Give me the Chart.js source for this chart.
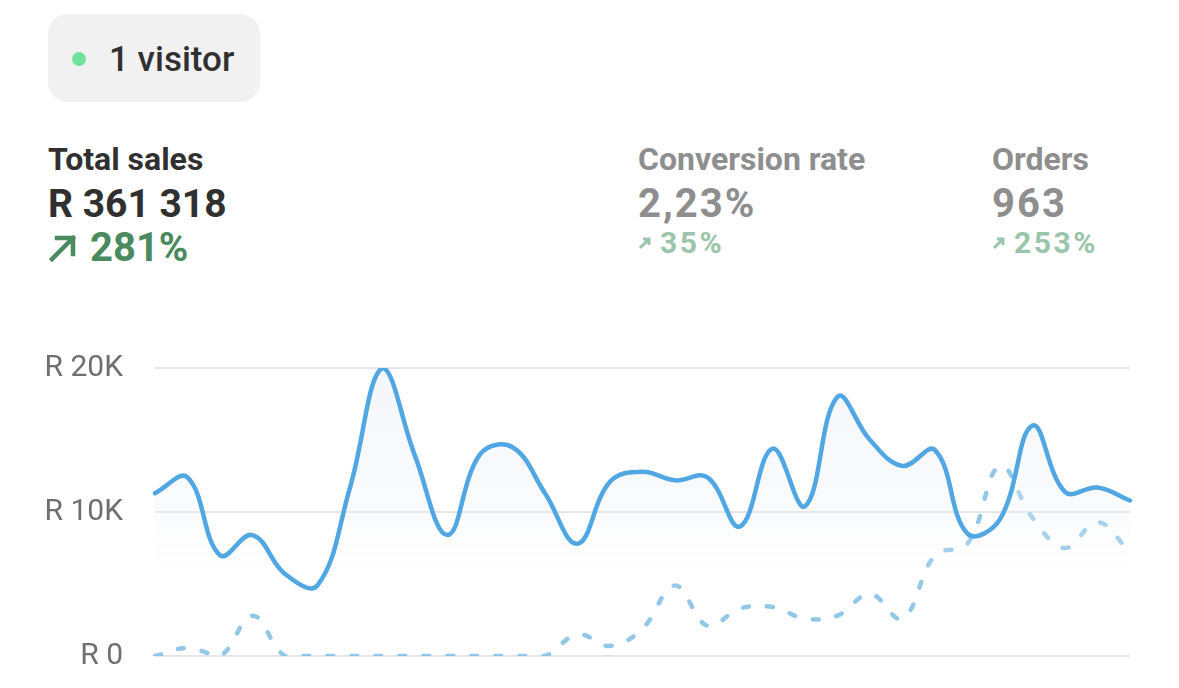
<!DOCTYPE html>
<html>
<head>
<meta charset="utf-8">
<script src="https://cdn.jsdelivr.net/npm/chart.js@4.4.1/dist/chart.umd.min.js"></script>
<style>
  html, body { margin:0; padding:0; background:#fff; width:1179px; height:688px; overflow:hidden; font-family: Roboto, "Noto Sans", sans-serif; position:relative; }
  .pill { position:absolute; left:48px; top:14px; width:212px; height:88px; border-radius:20px; background:#f1f1f1; }
  .dot { position:absolute; left:72px; top:52px; width:14px; height:14px; border-radius:50%; background:#6fe39c; }
  .visitor { position:absolute; left:109px; top:39px; font-size:35px; font-weight:500; color:#303030; line-height:42px; }
  .metric { position:absolute; top:140px; }
  .metric .t { font-size:32px; font-weight:700; line-height:38px; }
  .metric .v { font-size:40px; font-weight:700; line-height:46px; margin-top:3px; }
  .metric .c { font-weight:700; display:flex; align-items:center; }
  .main .t, .main .v { color:#303030; }
  .main .v { font-size:39px; letter-spacing:0px; }
  .main .c { color:#4a8a5f; font-size:40px; line-height:40px; margin-top:1px; }
  .sub .t, .sub .v { color:#8e8e8e; }
  .sub .v { letter-spacing:2px; }
  .sub .c { color:#9bc5ab; font-size:30px; line-height:30px; margin-top:1px; letter-spacing:2.5px; }
  #c { position:absolute; left:0; top:318px; }
</style>
</head>
<body>
<div class="pill"></div>
<div class="dot"></div>
<div class="visitor">1 visitor</div>

<div class="metric main" style="left:48px;">
  <div class="t">Total sales</div>
  <div class="v">R 361 318</div>
  <div class="c"><svg width="30" height="30" viewBox="0 0 30 30" style="margin-right:12px"><path d="M4 26 L25 5 M9 5 L25 5 L25 21" stroke="#4a8a5f" stroke-width="4.5" fill="none" stroke-linecap="square"/></svg>281%</div>
</div>
<div class="metric sub" style="left:638px;">
  <div class="t">Conversion rate</div>
  <div class="v">2,23%</div>
  <div class="c"><svg width="14" height="14" viewBox="0 0 14 14" style="margin-right:8px"><path d="M2 12 L11 3 M5 3 L11 3 L11 9" stroke="#9bc5ab" stroke-width="3" fill="none"/></svg>35%</div>
</div>
<div class="metric sub" style="left:992px;">
  <div class="t">Orders</div>
  <div class="v">963</div>
  <div class="c"><svg width="14" height="14" viewBox="0 0 14 14" style="margin-right:8px"><path d="M2 12 L11 3 M5 3 L11 3 L11 9" stroke="#9bc5ab" stroke-width="3" fill="none"/></svg>253%</div>
</div>

<canvas id="c" width="1179" height="388"></canvas>

<script>
const days = ['1','2','3','4','5','6','7','8','9','10','11','12','13','14','15','16','17','18','19','20','21','22','23','24','25','26','27','28','29','30','31'];
const currentSales = [11300,12400,7000,8400,5700,4900,11700,20000,13900,8400,14000,14500,11300,7800,12100,12800,12200,12400,9000,14400,10400,18000,15000,13200,14300,8500,9500,16000,11400,11700,10800];
const previousSales = [0,550,0,2800,0,0,0,0,0,0,0,0,0,1500,700,1900,4900,2100,3300,3400,2600,2800,4300,2600,7000,7800,13200,9600,7500,9300,7200];
const yTicks = [0,10000,20000];
const yTickLabels = ['R 0','R 10K','R 20K'];

const ctx = document.getElementById('c').getContext('2d');
new Chart(ctx, {
  type: 'line',
  data: {
    labels: days,
    datasets: [
      {
        label: 'Current',
        data: currentSales,
        borderColor: '#50a7e3',
        borderWidth: 4.5,
        tension: 0.4,
        pointRadius: 0,
        borderCapStyle: 'round',
        borderJoinStyle: 'round',
        fill: 'origin',
        backgroundColor: (c) => {
          const area = c.chart.chartArea;
          if (!area) return 'rgba(230,236,244,0.3)';
          const g = c.chart.ctx.createLinearGradient(0, area.top, 0, area.top + 230);
          g.addColorStop(0, 'rgba(228,234,243,0.42)');
          g.addColorStop(0.6, 'rgba(238,241,246,0.32)');
          g.addColorStop(1, 'rgba(255,255,255,0)');
          return g;
        },
        order: 1
      },
      {
        label: 'Previous',
        data: previousSales,
        borderColor: 'rgba(134,193,229,0.9)',
        borderWidth: 4.5,
        borderDash: [6, 18],
        borderCapStyle: 'round',
        tension: 0.4,
        pointRadius: 0,
        fill: false,
        order: 2
      }
    ]
  },
  options: {
    responsive: false,
    maintainAspectRatio: false,
    animation: false,
    layout: { padding: { top: 0, right: 49, bottom: 0, left: 0 } },
    plugins: { legend: { display: false }, tooltip: { enabled: false } },
    scales: {
      x: { display: false, offset: false },
      y: {
        min: 0, max: 20000,
        afterFit: (s) => { s.width = 155; },
        afterBuildTicks: (s) => { s.ticks = yTicks.map(v => ({ value: v })); },
        border: { display: false },
        grid: { color: '#e4e4e6', lineWidth: 2, drawTicks: false },
        ticks: {
          padding: 32,
          color: '#6e6e73',
          font: { family: 'Roboto', size: 30 },
          callback: (v) => yTickLabels[yTicks.indexOf(v)]
        }
      }
    }
  }
});
</script>
</body>
</html>
